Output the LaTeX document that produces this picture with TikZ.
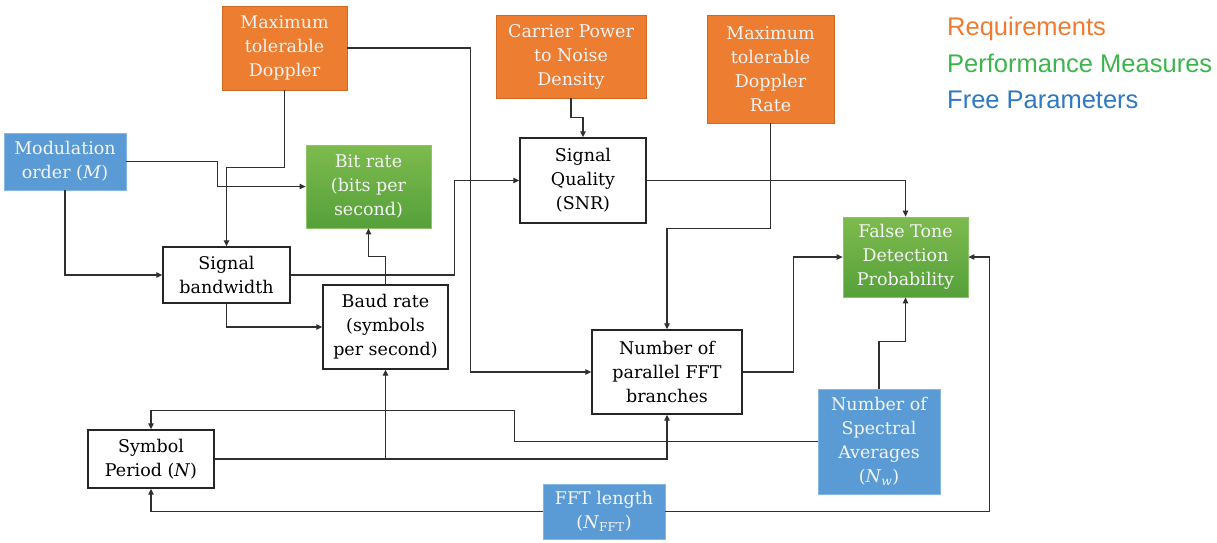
\documentclass[tikz,border=0pt]{standalone}
\usepackage{fontspec}
\setmainfont{DejaVu Serif}
\newfontfamily\legendfont{Liberation Sans}
\usetikzlibrary{arrows.meta,calc}
\definecolor{req}{HTML}{ED7D31}
\definecolor{reqd}{HTML}{CF6A25}
\definecolor{perfT}{HTML}{7DBB4E}
\definecolor{perfB}{HTML}{55A03A}
\definecolor{perfd}{HTML}{8CC46A}
\definecolor{par}{HTML}{5B9BD5}
\definecolor{pard}{HTML}{86B6E2}
\definecolor{lineC}{HTML}{303030}
\definecolor{legO}{HTML}{F07A30}
\definecolor{legG}{HTML}{3DB54C}
\definecolor{legB}{HTML}{2F78C4}
\definecolor{boxtext}{HTML}{F4F4F4}
\begin{document}
\begin{tikzpicture}[x=1pt,y=-1pt,
  boxfont/.style={font=\fontsize{17.5}{24}\selectfont},
  wbox/.style={boxfont, draw=black!85, line width=1.4pt, fill=white, text=black, align=center, inner sep=0pt},
  obox/.style={boxfont, draw=reqd, line width=0.8pt, fill=req, text=boxtext, align=center, inner sep=0pt},
  gbox/.style={boxfont, draw=perfd, line width=0.8pt, top color=perfT, bottom color=perfB, text=boxtext, align=center, inner sep=0pt},
  bbox/.style={boxfont, draw=pard, line width=0.8pt, fill=par, text=boxtext, align=center, inner sep=0pt},
  conn/.style={draw=lineC, line width=1.1pt, -{Triangle[length=6pt,width=5.5pt]}},
  legend/.style={anchor=base west, font=\legendfont\fontsize{25.5}{28}\selectfont, inner sep=0pt}
]
\useasboundingbox (0,0) rectangle (1217,542);
\fill[white] (0,0) rectangle (1217,542);

% nodes
\node[obox, minimum width=125pt, minimum height=84pt] (md) at (284.5,48) {Maximum\\tolerable\\Doppler};
\node[bbox, minimum width=122pt, minimum height=57pt] (mod) at (65,161.5) {Modulation\\order (\textit{M})};
\node[gbox, minimum width=125pt, minimum height=83pt] (br) at (368.5,186.5) {Bit rate\\(bits per\\second)};
\node[wbox, minimum width=127pt, minimum height=56pt] (bw) at (226.5,275) {Signal\\bandwidth};
\node[wbox, minimum width=125pt, minimum height=84pt] (baud) at (385.5,327) {Baud rate\\(symbols\\per second)};
\node[obox, minimum width=150pt, minimum height=83pt] (cp) at (571,56.5) {Carrier Power\\to Noise\\Density};
\node[wbox, minimum width=126pt, minimum height=85pt] (sq) at (583,180.5) {Signal\\Quality\\(SNR)};
\node[obox, minimum width=127pt, minimum height=108pt] (mdr) at (770.5,69) {Maximum\\tolerable\\Doppler\\Rate};
\node[gbox, minimum width=125pt, minimum height=80pt] (ft) at (905.5,257) {False Tone\\Detection\\Probability};
\node[wbox, minimum width=150pt, minimum height=84pt] (fft) at (667,372) {Number of\\parallel FFT\\branches};
\node[bbox, minimum width=122pt, minimum height=105pt] (sa) at (879,441.5) {Number of\\Spectral\\Averages\\(\textit{N}\textsubscript{\textit{w}})};
\node[wbox, minimum width=126pt, minimum height=58pt] (sp) at (151,459) {Symbol\\Period (\textit{N})};
\node[bbox, minimum width=122pt, minimum height=55pt] (fl) at (604,511.5) {FFT length\\(\textit{N}\textsubscript{FFT})};

% legend
\node[legend, text=legO] (lr) at (947,35) {Requirements};
\node[legend, text=legG] (lp) at (947,72) {Performance Measures};
\node[legend, text=legB] (lf) at (947,108) {Free Parameters};

% connectors
\draw[conn] (md.south) -- ++(0,77) -| (bw.north);
\draw[conn] (md.east) -- ++(123,0) |- (fft.west);
\draw[conn] (mod.east) -- ++(91,0) |- (br.west);
\draw[conn] (mod.south) |- (bw.west);
\draw[conn] (bw.east) -- ++(164,0) |- (sq.west);
\draw[conn] (bw.south) |- (baud.west);
\draw[conn] (baud.north) -- ++(0,-28) -| (br.south);
\draw[conn] (cp.south) -- ++(0,19) -| (sq.north);
\draw[conn] (sq.east) -| (ft.north);
\draw[conn] (mdr.south) -- ++(0,105) -| (fft.north);
\draw[conn] (fft.east) -- ++(51,0) |- (ft.west);
\draw[conn] (sa.north) -- ++(0,-47) -| (ft.south);
\draw[conn] (sa.west) -- ++(-303,0) -- ++(0,-31) -| (sp.north);
\draw[conn] (sp.east) -| (fft.south);
\draw[conn] (sp.east -| baud.south) -- (baud.south);
\draw[conn] (fl.west) -| (sp.south);
\draw[conn] (fl.east) -- ++(324,0) |- (ft.east);
\end{tikzpicture}
\end{document}
